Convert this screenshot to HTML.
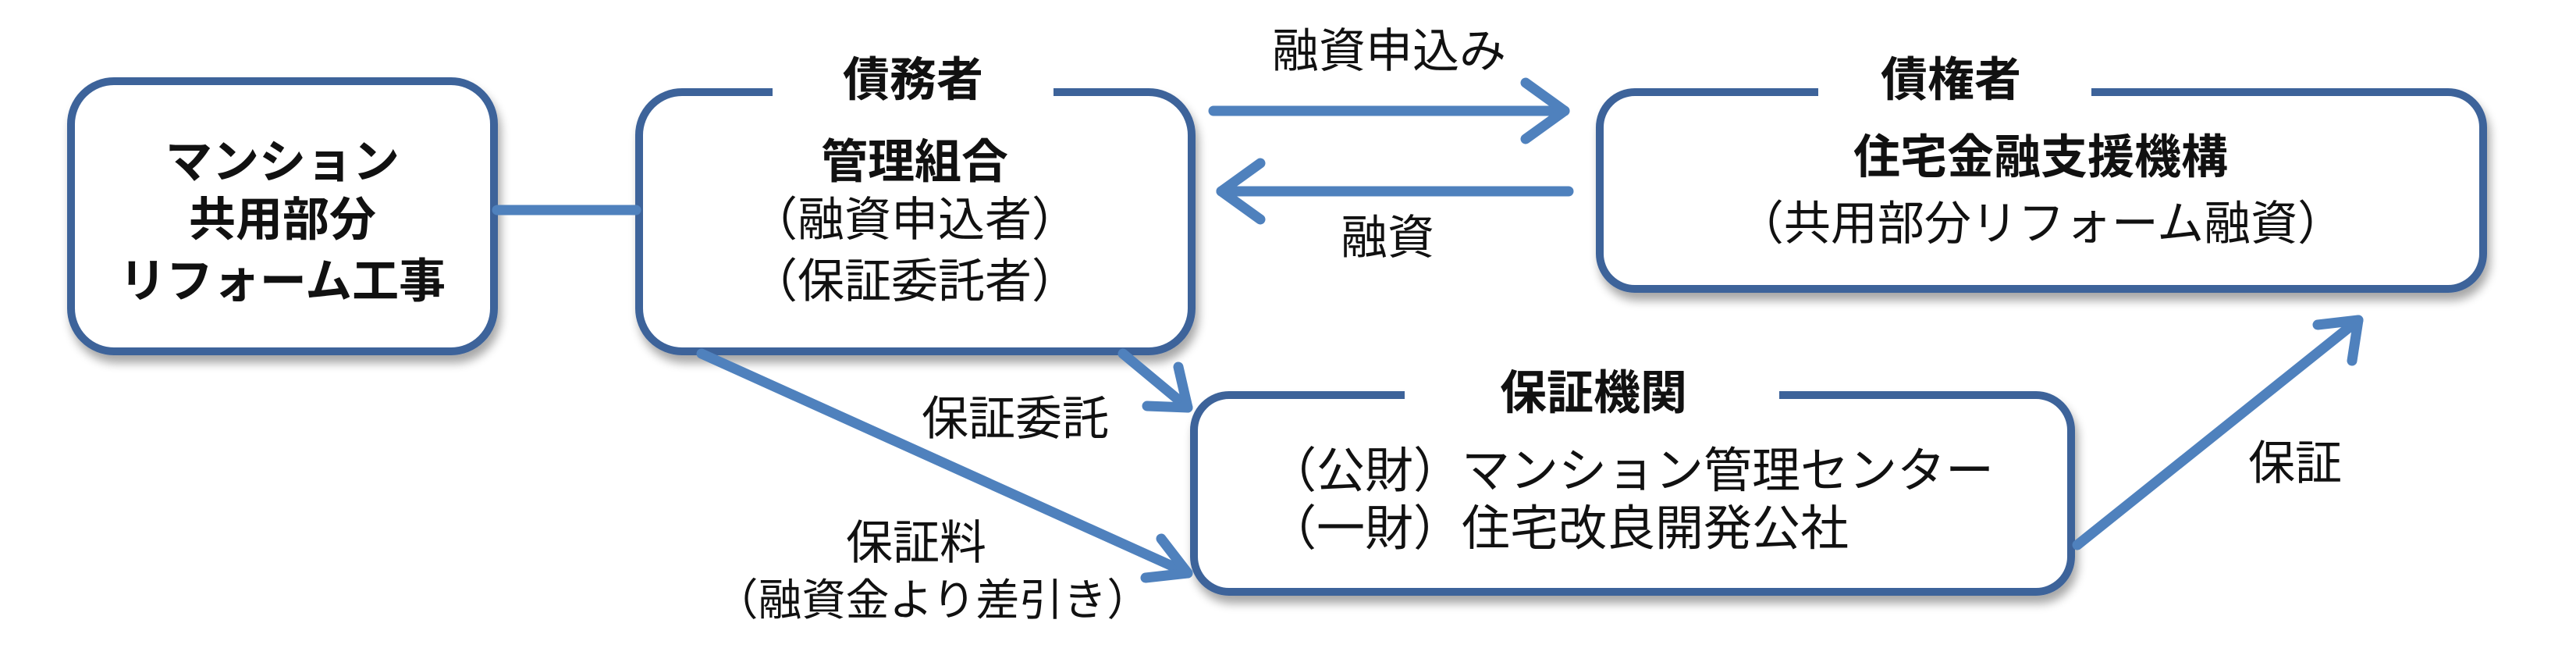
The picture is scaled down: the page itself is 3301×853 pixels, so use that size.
<!DOCTYPE html>
<html><head><meta charset="utf-8"><style>
html,body{margin:0;padding:0;background:#fff;}
svg{display:block;}
text{font-family:"Liberation Sans","Noto Sans CJK JP",sans-serif;fill:#111;}
.b{font-weight:bold;}
</style></head><body>
<svg width="3301" height="853" viewBox="0 0 3301 853" xmlns="http://www.w3.org/2000/svg">
<defs>
<filter id="sh" x="-5%" y="-5%" width="110%" height="120%">
<feGaussianBlur in="SourceAlpha" stdDeviation="6"/>
<feOffset dx="4" dy="10"/>
<feComponentTransfer><feFuncA type="linear" slope="0.35"/></feComponentTransfer>
<feMerge><feMergeNode/><feMergeNode in="SourceGraphic"/></feMerge>
</filter>
</defs>
<g fill="#fff" stroke="#3e639a" stroke-width="10" filter="url(#sh)">
<rect x="91" y="104" width="542" height="346" rx="55"/>
<rect x="819" y="118" width="708" height="332" rx="55"/>
<rect x="2050" y="118" width="1132" height="252" rx="45"/>
<rect x="1530" y="506" width="1124" height="252" rx="45"/>
</g>
<g fill="#fff">
<rect x="990" y="95" width="360" height="40"/>
<rect x="2330" y="95" width="350" height="40"/>
<rect x="1800" y="485" width="480" height="40"/>
</g>
<g stroke="#4f81bd" stroke-width="13" fill="none" stroke-linecap="round" stroke-linejoin="round">
<line x1="637" y1="269" x2="815" y2="269"/>
<line x1="1555" y1="142" x2="2005" y2="142"/>
<polyline points="1955,106 2005,142 1955,178"/>
<line x1="2010" y1="245" x2="1565" y2="245"/>
<polyline points="1615,209 1565,245 1615,281"/>
<line x1="1439" y1="453" x2="1522" y2="522"/>
<polyline points="1510,470 1522,522 1470,520"/>
<line x1="899" y1="453" x2="1522" y2="734"/>
<polyline points="1488,690 1522,734 1468,740"/>
<line x1="2662" y1="698" x2="3022" y2="410"/>
<polyline points="2970,416 3022,410 3014,462"/>
</g>
<g text-anchor="middle" font-size="60">
<text x="1170" y="123" class="b">債務者</text>
<text x="2500" y="123" class="b">債権者</text>
<text x="2042" y="524" class="b">保証機関</text>
<text x="362" y="228" class="b">マンション</text>
<text x="362" y="302" class="b">共用部分</text>
<text x="362" y="381" class="b">リフォーム工事</text>
<text x="1172" y="228" class="b">管理組合</text>
<text x="1172" y="302">（融資申込者）</text>
<text x="1172" y="381">（保証委託者）</text>
<text x="2615" y="222" class="b">住宅金融支援機構</text>
<text x="2615" y="307">（共用部分リフォーム融資）</text>
<text x="1780" y="86" font-size="60">融資申込み</text>
<text x="1778" y="325" font-size="60">融資</text>
<text x="1301" y="557" font-size="60">保証委託</text>
<text x="1174" y="716" font-size="60">保証料</text>
<text x="1195" y="788" font-size="56">（融資金より差引き）</text>
<text x="2941" y="614" font-size="60">保証</text>
</g>
<g font-size="62">
<text x="1625" y="624">（公財）マンション管理センター</text>
<text x="1625" y="698">（一財）住宅改良開発公社</text>
</g>
</svg>
</body></html>
